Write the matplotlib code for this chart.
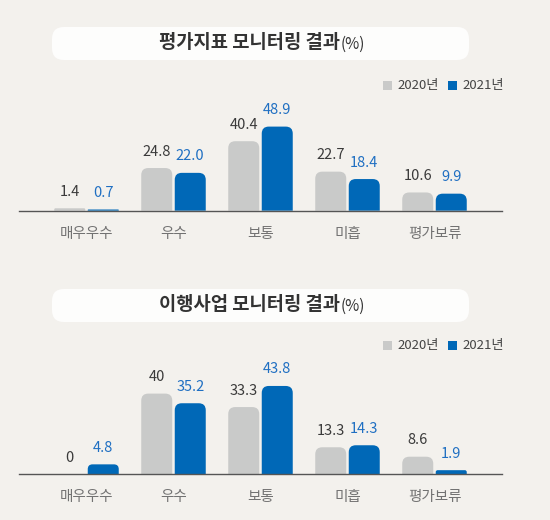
import matplotlib
matplotlib.use("Agg")
import matplotlib.pyplot as plt
from matplotlib.patches import FancyBboxPatch, Rectangle, PathPatch
from matplotlib.path import Path

plt.rcParams['font.family'] = ['Noto Sans CJK KR', 'DejaVu Sans']

# 데이터
categories = ["매우우수", "우수", "보통", "미흡", "평가보류"]
years = ["2020년", "2021년"]

eval_2020 = [1.4, 24.8, 40.4, 22.7, 10.6]
eval_2021 = [0.7, 22.0, 48.9, 18.4, 9.9]
eval_lab_2020 = ["1.4", "24.8", "40.4", "22.7", "10.6"]
eval_lab_2021 = ["0.7", "22.0", "48.9", "18.4", "9.9"]

proj_2020 = [0, 40, 33.3, 13.3, 8.6]
proj_2021 = [4.8, 35.2, 43.8, 14.3, 1.9]
proj_lab_2020 = ["0", "40", "33.3", "13.3", "8.6"]
proj_lab_2021 = ["4.8", "35.2", "43.8", "14.3", "1.9"]

titles = ["평가지표 모니터링 결과", "이행사업 모니터링 결과"]

BG = "#f3f1ed"
GRAY = "#c9cac9"
BLUE = "#0068b7"
GRAY_TXT = "#3a3a3a"
BLUE_TXT = "#1f6fc2"
CAT_TXT = "#727272"

W, H = 550, 520
fig = plt.figure(figsize=(W / 100, H / 100), dpi=100)
fig.patch.set_facecolor(BG)

# 장식용 오버레이 (픽셀 좌표)
deco = fig.add_axes([0, 0, 1, 1])
deco.set_xlim(0, W)
deco.set_ylim(H, 0)
deco.axis('off')
deco.set_zorder(0)


def rounded_bars(ax, bars, color, r_px, px_x, px_y):
    # ax.bar 로 만든 막대를 윗모서리가 둥근 막대로 교체
    for b in bars:
        x, y = b.get_x(), b.get_y()
        w, h = b.get_width(), b.get_height()
        b.set_visible(False)
        if h <= 0:
            continue
        r = min(r_px, (h / px_y) / 2.0)
        rx, ry = r * px_x, r * px_y
        verts = [(x, y), (x, y + h - ry), (x, y + h), (x + rx, y + h),
                 (x + w - rx, y + h), (x + w, y + h), (x + w, y + h - ry),
                 (x + w, y), (x, y)]
        codes = [Path.MOVETO, Path.LINETO, Path.CURVE3, Path.CURVE3,
                 Path.LINETO, Path.CURVE3, Path.CURVE3, Path.LINETO, Path.CLOSEPOLY]
        ax.add_patch(PathPatch(Path(verts, codes), fc=color, ec='none', zorder=2))


def panel(base_px, scale, ymax, v20, v21, l20, l21, title, title_y, legend_y):
    left, right = 19, 502
    group = 87.0
    c0 = 86.5
    xlo = (left - c0) / group
    xhi = (right - c0) / group
    h_px = ymax * scale
    ax = fig.add_axes([left / W, (H - base_px) / H, (right - left) / W, h_px / H])
    ax.set_facecolor('none')
    ax.set_zorder(1)
    ax.set_xlim(xlo, xhi)
    ax.set_ylim(0, ymax)
    for s in ['top', 'right', 'left']:
        ax.spines[s].set_visible(False)
    ax.spines['bottom'].set_color('#555555')
    ax.spines['bottom'].set_linewidth(1.0)
    ax.spines['bottom'].set_zorder(3)
    ax.set_yticks([])

    x = list(range(len(categories)))
    bw = 31 / group
    off = 16.75 / group
    b1 = ax.bar([i - off for i in x], v20, bw, color=GRAY)
    b2 = ax.bar([i + off for i in x], v21, bw, color=BLUE)
    rounded_bars(ax, b1, GRAY, 7, 1 / group, 1 / scale)
    rounded_bars(ax, b2, BLUE, 7, 1 / group, 1 / scale)

    for i in x:
        ax.annotate(l20[i], (i - off, v20[i]), xytext=(0, 16.5 * 0.72),
                    textcoords='offset points', ha='center', va='center',
                    fontsize=10.5, color=GRAY_TXT)
        ax.annotate(l21[i], (i + off, v21[i]), xytext=(0, 16.5 * 0.72),
                    textcoords='offset points', ha='center', va='center',
                    fontsize=10.5, color=BLUE_TXT)

    ax.set_xticks(x)
    ax.set_xticklabels(categories, fontsize=10.5, color=CAT_TXT)
    ax.tick_params(axis='x', length=0, pad=11.5)

    # 제목 상자
    deco.add_patch(FancyBboxPatch((52, title_y - 16), 417, 33,
                                  boxstyle="round,pad=0,rounding_size=12",
                                  fc="#fdfdfc", ec='none'))
    deco.text(340, title_y, title, ha='right', va='center', fontsize=13.5,
              fontweight='bold', color="#333333")
    deco.text(341, title_y + 1, "(%)", ha='left', va='center', fontsize=11,
              color="#333333")

    # 범례
    deco.add_patch(Rectangle((383, legend_y - 4.5), 9, 9, fc=GRAY, ec='none'))
    deco.text(397, legend_y, years[0], ha='left', va='center', fontsize=9.5, color="#444444")
    deco.add_patch(Rectangle((448, legend_y - 4.5), 9, 9, fc=BLUE, ec='none'))
    deco.text(462, legend_y, years[1], ha='left', va='center', fontsize=9.5, color="#444444")


panel(210.7, 1.72, 60, eval_2020, eval_2021, eval_lab_2020, eval_lab_2021,
      titles[0], 43, 85)
panel(474, 2.01, 50, proj_2020, proj_2021, proj_lab_2020, proj_lab_2021,
      titles[1], 305, 345)

fig.savefig("out.png", dpi=100, facecolor=BG)
